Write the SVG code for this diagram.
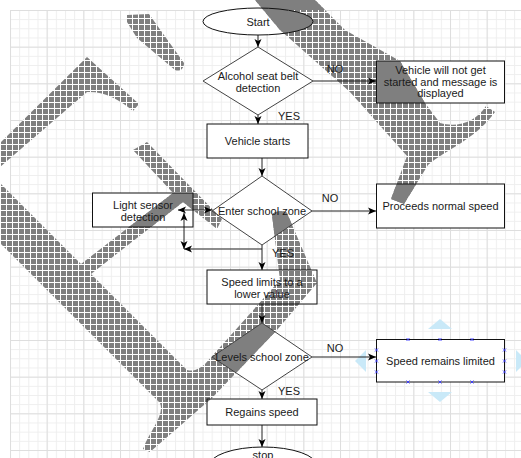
<svg xmlns="http://www.w3.org/2000/svg" width="521" height="458" viewBox="0 0 521 458">
<defs>
<style>
.t{font-family:"Liberation Sans",Arial,sans-serif;font-size:11px;fill:#1a1a1a;text-anchor:middle}
.n{fill:none;stroke:#111;stroke-width:1}
.d{fill:none;stroke:#444;stroke-width:1}
.f{fill:#fff;stroke:none}
.c{fill:none;stroke:#222;stroke-width:1}
.h{fill:#c9e9f8}
.x{stroke:#3a3aff;stroke-width:0.9;fill:none}
</style>
<pattern id="gmin" x="10" y="10" width="9.1667" height="9.1667" patternUnits="userSpaceOnUse"><path d="M0,0.5H9.1667M0.5,0V9.1667" stroke="#eeeeee" stroke-width="1" fill="none"/></pattern>
<pattern id="gmaj" x="10" y="10" width="36.667" height="36.667" patternUnits="userSpaceOnUse"><path d="M0,0.5H36.667M0.5,0V36.667" stroke="#dedede" stroke-width="1" fill="none"/></pattern>
<pattern id="chk" x="0" y="0" width="6" height="6" patternUnits="userSpaceOnUse"><rect width="6" height="6" fill="#fff"/><rect x="1" y="1" width="5" height="5" fill="#7f7f7f"/></pattern>
<marker id="arr" markerWidth="8" markerHeight="8" refX="8" refY="4" orient="auto-start-reverse" markerUnits="userSpaceOnUse"><path d="M0,0.5L8,4L0,7.5L2,4Z" fill="#000"/></marker>
<path id="wm" d="M0,143L87,57L139,104L133,111C118,98 102,91 87,92L0,167Z
M127,15L149,14L184,63C184,69 180,72 175,70L137,38L127,22Z
M255,0L315,0L345,30L400,61L425,103L440,123C458,128 476,122 486,106L495,112C475,140 445,150 428,165L404,204L391,199L407,156L350,92L280,30Z
M133,150L147,142L222,219L217,229L183,202L91,274L81,264L173,193Z
M0,183L187,370C195,372 200,368 205,364L280,280L272,215C273,211 285,210 287,213L317,283L277,330L212,398L150,452L143,449C150,430 165,415 160,403L0,243Z"/>
<clipPath id="solid">
<rect x="0" y="0" width="521" height="10"/>
<ellipse cx="258" cy="21.5" rx="55" ry="13.5"/>
<polygon points="258,47 313,81 258,115 203,81"/>
<rect x="207" y="124" width="101" height="34"/>
<rect x="376.5" y="61" width="128" height="42"/>
<polygon points="262,176 312,211 262,245 212,211"/>
<rect x="92.5" y="193" width="100.5" height="34"/>
<rect x="376.5" y="184" width="128" height="44"/>
<polygon points="262,323 312,357 262,390 212,357"/>
<rect x="207" y="399" width="110" height="26"/>
</clipPath>
</defs>

<rect width="521" height="458" fill="#fff"/>
<rect x="10" y="10" width="511" height="448" fill="url(#gmin)"/>
<rect x="10" y="10" width="511" height="448" fill="url(#gmaj)"/>

<g id="fills">
<ellipse class="f" cx="258" cy="21.5" rx="55" ry="13.5"/>
<polygon class="f" points="258,47 313,81 258,115 203,81"/>
<rect class="f" x="207" y="124" width="101" height="34"/>
<rect class="f" x="376.5" y="61" width="128" height="42"/>
<polygon class="f" points="262,176 312,211 262,245 212,211"/>
<rect class="f" x="92.5" y="193" width="100.5" height="34"/>
<rect class="f" x="376.5" y="184" width="128" height="44"/>
<rect class="f" x="207" y="270" width="110" height="34"/>
<polygon class="f" points="262,323 312,357 262,390 212,357"/>
<rect class="f" x="376.5" y="339.5" width="128" height="42.5"/>
<rect class="f" x="207" y="399" width="110" height="26"/>
<ellipse class="f" cx="263" cy="466" rx="54" ry="19"/>
</g>

<g id="watermark">
<use href="#wm" fill="url(#chk)"/>
<use href="#wm" fill="#7f7f7f" clip-path="url(#solid)"/>
</g>

<g id="selection">
<polygon class="h" points="428,329 452,329 440,319"/>
<polygon class="h" points="428,392 452,392 440,402"/>
<polygon class="h" points="366,350 366,372 355,361"/>
<polygon class="h" points="516,350 516,372 527,361"/>
</g>

<g id="connectors">
<line class="c" x1="258" y1="35" x2="258" y2="47" marker-end="url(#arr)"/>
<line class="c" x1="258" y1="115" x2="258" y2="124" marker-end="url(#arr)"/>
<line class="c" x1="313" y1="81" x2="376" y2="81" marker-end="url(#arr)"/>
<line class="c" x1="262" y1="158" x2="262" y2="176" marker-end="url(#arr)"/>
<line class="c" x1="312" y1="211" x2="376" y2="211" marker-end="url(#arr)"/>
<line class="c" x1="178" y1="210" x2="212" y2="210" marker-start="url(#arr)" marker-end="url(#arr)"/>
<polyline class="c" points="262,245 262,249 184,249" marker-end="url(#arr)"/>
<line class="c" x1="184" y1="249" x2="184" y2="213" marker-start="url(#arr)" marker-end="url(#arr)"/>
<line class="c" x1="262" y1="249" x2="262" y2="270" marker-end="url(#arr)"/>
<line class="c" x1="262" y1="304" x2="262" y2="323" marker-end="url(#arr)"/>
<line class="c" x1="312" y1="357" x2="376" y2="357" marker-end="url(#arr)"/>
<line class="c" x1="262" y1="390" x2="262" y2="399" marker-end="url(#arr)"/>
<line class="c" x1="262" y1="425" x2="262" y2="447" marker-end="url(#arr)"/>
<text class="t" x="289" y="120">YES</text>
<text class="t" x="335" y="73">NO</text>
<text class="t" x="330" y="202">NO</text>
<text class="t" x="283" y="257">YES</text>
<text class="t" x="335" y="352">NO</text>
<text class="t" x="289" y="395">YES</text>
</g>

<g id="start"><ellipse class="n" cx="258" cy="21.5" rx="55" ry="13.5" stroke="#333"/><text class="t" x="258" y="25.5">Start</text></g>
<g id="alcohol"><polygon class="d" points="258,47 313,81 258,115 203,81"/><text class="t" x="258" y="80">Alcohol seat belt</text><text class="t" x="258" y="92">detection</text></g>
<g id="vehicle-starts"><rect class="n" x="207" y="124" width="101" height="34"/><text class="t" x="257.5" y="145">Vehicle starts</text></g>
<g id="not-started"><rect class="n" x="376.5" y="61" width="128" height="42"/><text class="t" x="440.5" y="74">Vehicle will not get</text><text class="t" x="440.5" y="86">started and message is</text><text class="t" x="440.5" y="97">displayed</text></g>
<g id="enter-zone"><polygon class="d" points="262,176 312,211 262,245 212,211"/><text class="t" x="262" y="214.5">Enter school zone</text></g>
<g id="light-sensor"><rect class="n" x="92.5" y="193" width="100.5" height="34"/><text class="t" x="143" y="209">Light sensor</text><text class="t" x="143" y="220.5">detection</text></g>
<g id="normal-speed"><rect class="n" x="376.5" y="184" width="128" height="44"/><text class="t" x="440.5" y="210">Proceeds normal speed</text></g>
<g id="speed-limits"><rect class="n" x="207" y="270" width="110" height="34"/><text class="t" x="262" y="286">Speed limits to a</text><text class="t" x="262" y="297.5">lower value</text></g>
<g id="leaves-zone"><polygon class="d" points="262,323 312,357 262,390 212,357"/><text class="t" x="262" y="361">Levels school zone</text></g>
<g id="remains-limited"><rect class="n" x="376.5" y="339.5" width="128" height="42.5"/><text class="t" x="440.5" y="364.5">Speed remains limited</text>
<path class="x" d="M406.5,338l3,3m0,-3l-3,3M438.5,338l3,3m0,-3l-3,3M470.5,338l3,3m0,-3l-3,3M406.5,380.5l3,3m0,-3l-3,3M438.5,380.5l3,3m0,-3l-3,3M470.5,380.5l3,3m0,-3l-3,3M375,348.5l3,3m0,-3l-3,3M375,359.5l3,3m0,-3l-3,3M375,370.5l3,3m0,-3l-3,3M503,348.5l3,3m0,-3l-3,3M503,359.5l3,3m0,-3l-3,3M503,370.5l3,3m0,-3l-3,3"/></g>
<g id="regains"><rect class="n" x="207" y="399" width="110" height="26"/><text class="t" x="262" y="415.5">Regains speed</text></g>
<g id="stop"><ellipse class="n" cx="263" cy="466" rx="54" ry="19" stroke="#333"/><text class="t" x="263" y="459">stop</text></g>
</svg>
